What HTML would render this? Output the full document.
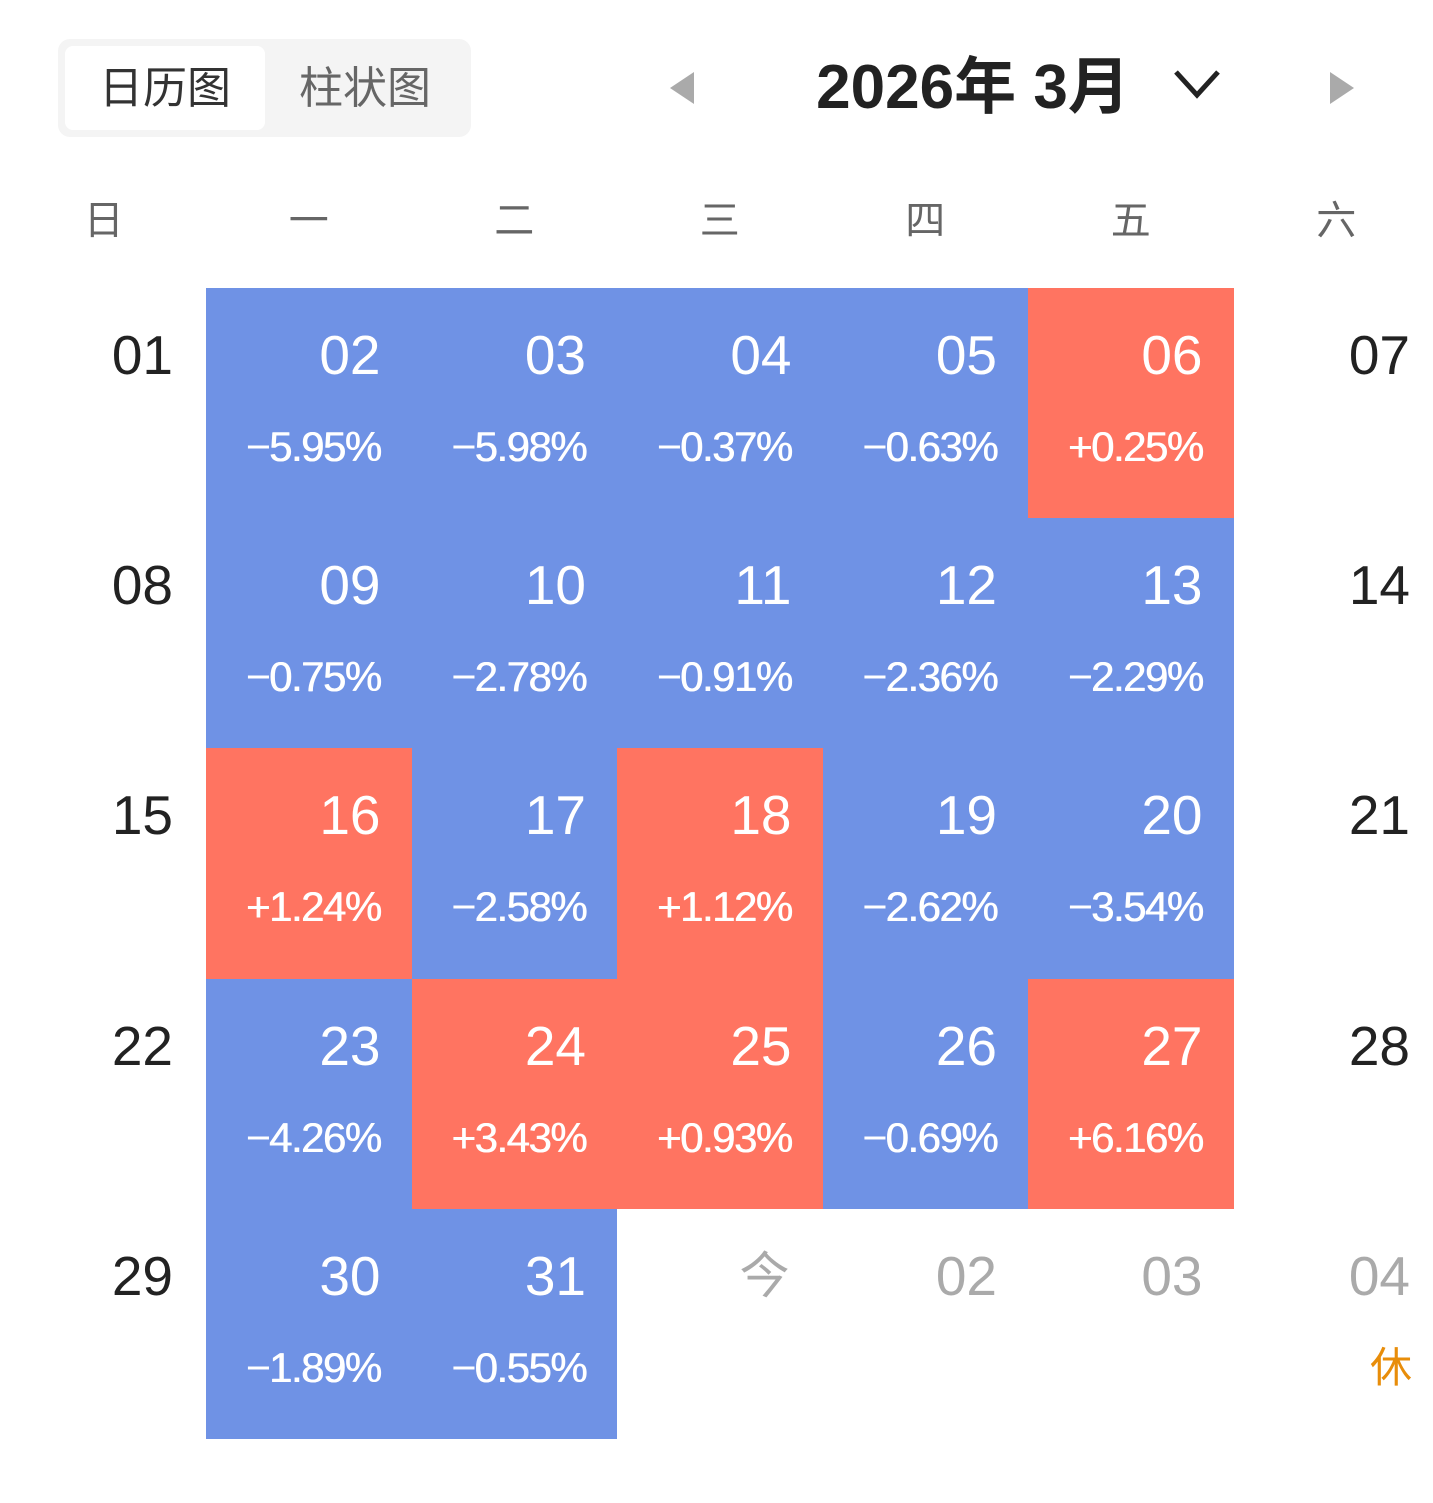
<!DOCTYPE html>
<html><head><meta charset="utf-8"><style>
body{margin:0;width:1433px;height:1503px;background:#fff;position:relative;overflow:hidden;font-family:"Liberation Sans","Noto Sans CJK SC",sans-serif}
.a{position:absolute}
.c{position:absolute;width:205.5px;height:230.2px}
.b{background:#6f92e5}.r{background:#ff7461}
.n{position:absolute;right:31px;top:30px;font-size:55px;line-height:74px;color:#222}
.p{position:absolute;right:31px;top:134px;font-size:42px;line-height:50px;color:#fff;letter-spacing:-1.5px;text-shadow:0.6px 0 0 #fff}
.b .n,.r .n{color:#fff}
.g .n{color:#aaa}
.w{position:absolute;top:195px;width:205.5px;text-align:center;font-size:40px;line-height:52px;color:#666}
</style></head><body>
<div class="a" style="left:58px;top:39px;width:413px;height:98px;background:#f4f4f4;border-radius:12px"></div>
<div class="a" style="left:65px;top:46px;width:200px;height:84px;background:#fff;border-radius:8px"></div>
<div class="a" style="left:65px;top:60px;width:200px;text-align:center;font-size:44px;line-height:58px;color:#333">日历图</div>
<div class="a" style="left:265px;top:60px;width:200px;text-align:center;font-size:44px;line-height:58px;color:#666">柱状图</div>
<svg class="a" style="left:668px;top:70px" width="28" height="36"><polygon points="26,2 26,34 2,18" fill="#aaa"/></svg>
<svg class="a" style="left:1328px;top:70px" width="28" height="36"><polygon points="2,2 2,34 26,18" fill="#aaa"/></svg>
<div class="a" style="left:798px;top:50px;width:350px;text-align:center;font-size:62px;line-height:76px;font-weight:bold;color:#222">2026年 3月</div>
<svg class="a" style="left:1172px;top:68px" width="50" height="34"><polyline points="4,4 25,27 46,4" fill="none" stroke="#222" stroke-width="5"/></svg>
<div class="w" style="left:1px">日</div><div class="w" style="left:206px">一</div><div class="w" style="left:411.5px">二</div><div class="w" style="left:617px">三</div><div class="w" style="left:822.5px">四</div><div class="w" style="left:1028px">五</div><div class="w" style="left:1233.5px">六</div>

<div class="c" style="left:.5px;top:288px"><div class="n" style="right:33px">01</div></div>
<div class="c b" style="left:206px;top:288px"><div class="n">02</div><div class="p">−5.95%</div></div>
<div class="c b" style="left:411.5px;top:288px"><div class="n">03</div><div class="p">−5.98%</div></div>
<div class="c b" style="left:617px;top:288px"><div class="n">04</div><div class="p">−0.37%</div></div>
<div class="c b" style="left:822.5px;top:288px"><div class="n">05</div><div class="p">−0.63%</div></div>
<div class="c r" style="left:1028px;top:288px"><div class="n">06</div><div class="p">+0.25%</div></div>
<div class="c" style="left:1233.5px;top:288px"><div class="n" style="right:29px">07</div></div>

<div class="c" style="left:.5px;top:518.2px"><div class="n" style="right:33px">08</div></div>
<div class="c b" style="left:206px;top:518.2px"><div class="n">09</div><div class="p">−0.75%</div></div>
<div class="c b" style="left:411.5px;top:518.2px"><div class="n">10</div><div class="p">−2.78%</div></div>
<div class="c b" style="left:617px;top:518.2px"><div class="n">11</div><div class="p">−0.91%</div></div>
<div class="c b" style="left:822.5px;top:518.2px"><div class="n">12</div><div class="p">−2.36%</div></div>
<div class="c b" style="left:1028px;top:518.2px"><div class="n">13</div><div class="p">−2.29%</div></div>
<div class="c" style="left:1233.5px;top:518.2px"><div class="n" style="right:29px">14</div></div>

<div class="c" style="left:.5px;top:748.4px"><div class="n" style="right:33px">15</div></div>
<div class="c r" style="left:206px;top:748.4px"><div class="n">16</div><div class="p">+1.24%</div></div>
<div class="c b" style="left:411.5px;top:748.4px"><div class="n">17</div><div class="p">−2.58%</div></div>
<div class="c r" style="left:617px;top:748.4px"><div class="n">18</div><div class="p">+1.12%</div></div>
<div class="c b" style="left:822.5px;top:748.4px"><div class="n">19</div><div class="p">−2.62%</div></div>
<div class="c b" style="left:1028px;top:748.4px"><div class="n">20</div><div class="p">−3.54%</div></div>
<div class="c" style="left:1233.5px;top:748.4px"><div class="n" style="right:29px">21</div></div>

<div class="c" style="left:.5px;top:978.6px"><div class="n" style="right:33px">22</div></div>
<div class="c b" style="left:206px;top:978.6px"><div class="n">23</div><div class="p">−4.26%</div></div>
<div class="c r" style="left:411.5px;top:978.6px"><div class="n">24</div><div class="p">+3.43%</div></div>
<div class="c r" style="left:617px;top:978.6px"><div class="n">25</div><div class="p">+0.93%</div></div>
<div class="c b" style="left:822.5px;top:978.6px"><div class="n">26</div><div class="p">−0.69%</div></div>
<div class="c r" style="left:1028px;top:978.6px"><div class="n">27</div><div class="p">+6.16%</div></div>
<div class="c" style="left:1233.5px;top:978.6px"><div class="n" style="right:29px">28</div></div>

<div class="c" style="left:.5px;top:1208.8px"><div class="n" style="right:33px">29</div></div>
<div class="c b" style="left:206px;top:1208.8px"><div class="n">30</div><div class="p">−1.89%</div></div>
<div class="c b" style="left:411.5px;top:1208.8px"><div class="n">31</div><div class="p">−0.55%</div></div>
<div class="c g" style="left:617px;top:1208.8px"><div class="n" style="font-size:50px;right:33px">今</div></div>
<div class="c g" style="left:822.5px;top:1208.8px"><div class="n">02</div></div>
<div class="c g" style="left:1028px;top:1208.8px"><div class="n">03</div></div>
<div class="c g" style="left:1233.5px;top:1208.8px"><div class="n" style="right:29px">04</div><div class="p" style="right:27px;color:#e88d0a;letter-spacing:0;text-shadow:none">休</div></div>
</body></html>
